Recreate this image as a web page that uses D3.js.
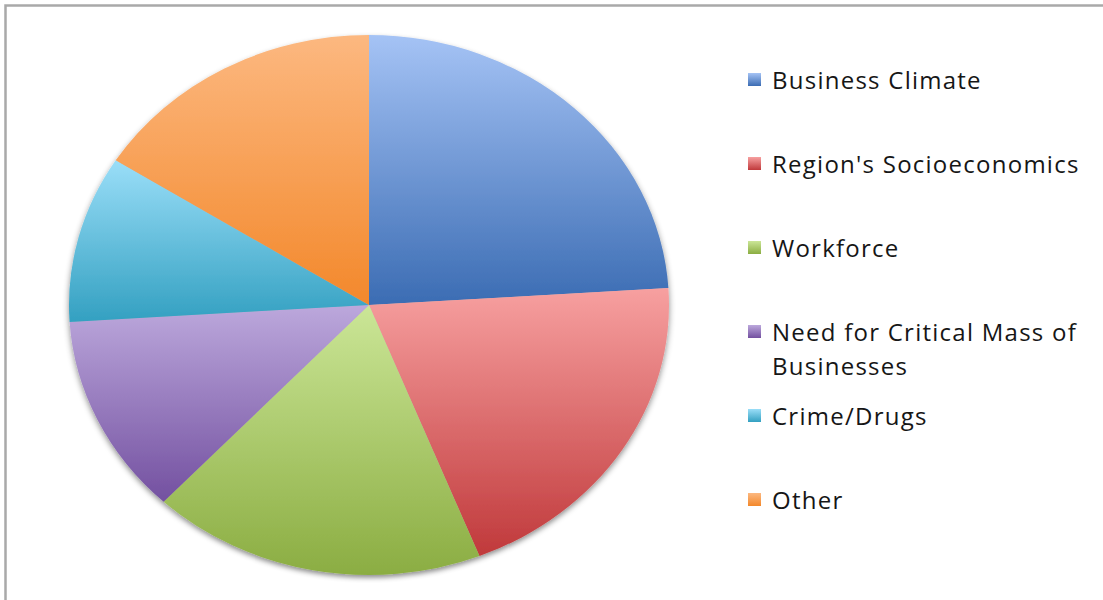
<!DOCTYPE html>
<html>
<head>
<meta charset="utf-8">
<script src="https://cdn.jsdelivr.net/npm/d3@7"></script>
<style>
  html, body { margin: 0; padding: 0; background: #fff; }
  svg { display: block; }
</style>
</head>
<body>
<svg id="chart" width="1103" height="600"></svg>
<script>
// Survey responses: main obstacles named
const categories = [
  "Business Climate",
  "Region's Socioeconomics",
  "Workforce",
  "Need for Critical Mass of Businesses",
  "Crime/Drugs",
  "Other"
];
const values = [24, 20, 18, 12, 10, 16];
// Each slice is shaded from a light top colour to a deeper bottom colour
const lightColors = ["#a5c3f5", "#f7a0a0", "#cbe697", "#bca8dc", "#9adef8", "#fcb880"];
const darkColors  = ["#3b6cb3", "#c0393b", "#8bad42", "#7350a0", "#33a0c1", "#f3882b"];
// Legend text, one entry per line
const legendLines = [
  ["Business Climate"],
  ["Region's Socioeconomics"],
  ["Workforce"],
  ["Need for Critical Mass of", "Businesses"],
  ["Crime/Drugs"],
  ["Other"]
];

const svg = d3.select("#chart");
const defs = svg.append("defs");

// soft shadow beneath the pie
const shadow = defs.append("filter").attr("id", "pieShadow")
  .attr("x", "-10%").attr("y", "-10%").attr("width", "120%").attr("height", "125%");
shadow.append("feDropShadow")
  .attr("dx", 0).attr("dy", 3).attr("stdDeviation", 3)
  .attr("flood-color", "#000").attr("flood-opacity", 0.45);

categories.forEach((c, i) => {
  const g = defs.append("linearGradient").attr("id", "grad" + i)
    .attr("x1", 0).attr("y1", 0).attr("x2", 0).attr("y2", 1);
  g.append("stop").attr("offset", "0%").attr("stop-color", lightColors[i]);
  g.append("stop").attr("offset", "100%").attr("stop-color", darkColors[i]);
});

// frame
svg.append("rect")
  .attr("x", 5.5).attr("y", 5.5).attr("width", 1120).attr("height", 620)
  .attr("fill", "none").attr("stroke", "#a9a9a9").attr("stroke-width", 2.5);

// pie, drawn as a circle and stretched into an ellipse
const rx = 300, ry = 270, cx = 369, cy = 305;
const pie = d3.pie().sort(null).value(d => d)(values);
const arc = d3.arc().innerRadius(0).outerRadius(rx);

const pieG = svg.append("g")
  .attr("filter", "url(#pieShadow)")
  .attr("transform", `translate(${cx},${cy}) scale(1,${ry / rx})`);

pieG.selectAll("path")
  .data(pie)
  .join("path")
  .attr("d", arc)
  .attr("fill", (d, i) => `url(#grad${i})`);

// legend
const legendX = 748, legendTop = 80, step = 84, lineH = 34;
const leg = svg.append("g").attr("font-family", "'Open Sans', sans-serif")
  .attr("font-size", 24).attr("letter-spacing", 1.25).attr("fill", "#161616");

legendLines.forEach((lines, i) => {
  const y = legendTop + i * step;
  leg.append("rect")
    .attr("x", legendX).attr("y", y - 7).attr("width", 13).attr("height", 13)
    .attr("fill", `url(#grad${i})`);
  const t = leg.append("text").attr("x", legendX + 24).attr("y", y + 8.5);
  lines.forEach((s, j) => {
    t.append("tspan").attr("x", legendX + 24).attr("dy", j === 0 ? 0 : lineH).text(s);
  });
});
</script>
</body>
</html>
